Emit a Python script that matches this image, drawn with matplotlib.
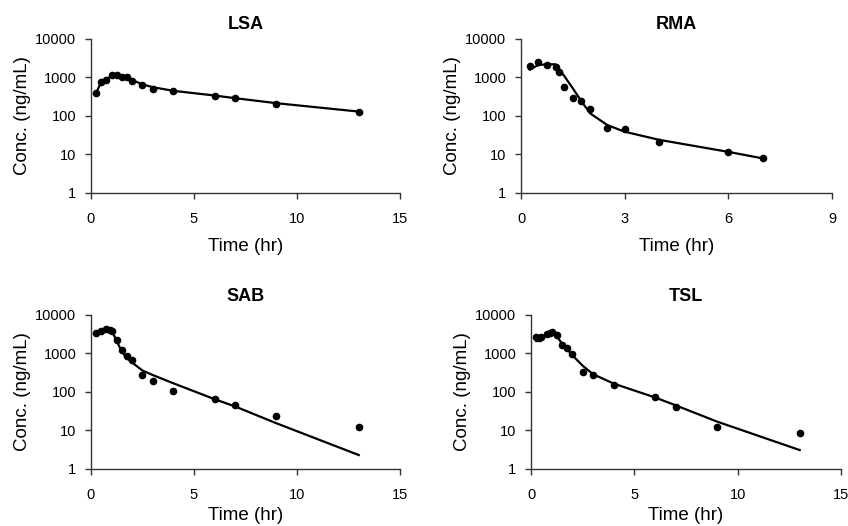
import numpy as np
import matplotlib
matplotlib.use("Agg")
import matplotlib.pyplot as plt
import matplotlib.ticker as mticker

plt.rcParams['font.family'] = ['Liberation Sans', 'DejaVu Sans']

# ---- observed concentrations (ng/mL) and fitted curves ----
lsa_t = [0.25, 0.5, 0.75, 1.0, 1.25, 1.5, 1.75, 2.0, 2.5, 3.0, 4.0, 6.0, 7.0, 9.0, 13.0]
lsa_c = [390, 750, 850, 1190, 1150, 1050, 1000, 800, 620, 510, 440, 330, 290, 200, 130]
lsa_fit_t = [0.25, 0.5, 0.75, 1.0, 1.25, 1.5, 1.75, 2.0, 2.5, 3.0, 4.0, 6.0, 7.0, 9.0, 13.0]
lsa_fit_c = [400, 760, 900, 1100, 1100, 1030, 980, 860, 660, 560, 450, 340, 290, 215, 130]

rma_t = [0.25, 0.5, 0.75, 1.0, 1.1, 1.25, 1.5, 1.75, 2.0, 2.5, 3.0, 4.0, 6.0, 7.0]
rma_c = [1950, 2450, 2150, 1850, 1350, 560, 300, 240, 155, 48, 47, 21, 11.7, 7.9]
rma_fit_t = [0.25, 0.5, 0.75, 1.0, 1.25, 1.5, 1.75, 2.0, 2.5, 3.0, 4.0, 6.0, 7.0]
rma_fit_c = [1600, 2100, 2200, 2200, 1100, 520, 240, 117, 58, 39, 24, 11.7, 7.9]

sab_t = [0.25, 0.5, 0.75, 0.9, 1.0, 1.25, 1.5, 1.75, 2.0, 2.5, 3.0, 4.0, 6.0, 7.0, 9.0, 13.0]
sab_c = [3500, 3800, 4200, 4100, 3900, 2240, 1230, 880, 680, 280, 197, 108, 66, 45, 24, 12]
sab_fit_t = [0.25, 0.5, 0.75, 1.0, 1.25, 1.5, 1.75, 2.0, 2.5, 3.0, 4.0, 6.0, 7.0, 9.0, 13.0]
sab_fit_c = [3100, 3500, 3900, 4000, 2100, 1100, 750, 580, 360, 275, 168, 65, 42, 15.4, 2.3]

tsl_t = [0.25, 0.4, 0.5, 0.75, 0.9, 1.0, 1.25, 1.5, 1.75, 2.0, 2.5, 3.0, 4.0, 6.0, 7.0, 9.0, 13.0]
tsl_c = [2700, 2450, 2600, 3200, 3500, 3700, 3000, 1660, 1360, 970, 325, 270, 152, 76, 40, 12, 8.5]
tsl_fit_t = [0.25, 0.5, 0.75, 1.0, 1.25, 1.5, 1.75, 2.0, 2.5, 3.0, 4.0, 6.0, 7.0, 9.0, 13.0]
tsl_fit_c = [2100, 2600, 3100, 3600, 2800, 1800, 1300, 900, 480, 290, 165, 72, 45, 17, 3.1]

titles = ['LSA', 'RMA', 'SAB', 'TSL']
xmax = [15, 9, 15, 15]
xstep = [5, 3, 5, 5]
obs = [(lsa_t, lsa_c), (rma_t, rma_c), (sab_t, sab_c), (tsl_t, tsl_c)]
fits = [(lsa_fit_t, lsa_fit_c), (rma_fit_t, rma_fit_c), (sab_fit_t, sab_fit_c), (tsl_fit_t, tsl_fit_c)]

# axes boxes in figure fractions
boxes = [[0.1073, 0.6331, 0.3644, 0.2928],
         [0.6144, 0.6331, 0.3667, 0.2928],
         [0.1073, 0.1084, 0.3644, 0.2928],
         [0.6262, 0.1084, 0.3656, 0.2928]]
title_pad = [7, 7, 10, 10]
xlab_pad = [9, 9, 4, 4]

fig = plt.figure(figsize=(8.48, 5.26), dpi=100)

for i in range(4):
    ax = fig.add_axes(boxes[i])
    ax.plot(fits[i][0], fits[i][1], color='black', lw=1.6, zorder=2)
    ax.plot(obs[i][0], obs[i][1], 'o', color='black', ms=4.5, zorder=3)
    ax.set_yscale('log')
    ax.set_ylim(1, 10000)
    ax.set_xlim(0, xmax[i])
    ax.set_xticks(np.arange(0, xmax[i] + 0.1, xstep[i]))
    ax.set_yticks([1, 10, 100, 1000, 10000])
    ax.yaxis.set_major_formatter(mticker.FuncFormatter(lambda v, p: '%d' % v))
    ax.yaxis.set_minor_locator(mticker.NullLocator())
    ax.spines['top'].set_visible(False)
    ax.spines['right'].set_visible(False)
    for s in ['left', 'bottom']:
        ax.spines[s].set_linewidth(1.0)
        ax.spines[s].set_color('#333333')
    ax.tick_params(direction='out', length=4.5, width=1.0, labelsize=10.5,
                   colors='#333333', labelcolor='black')
    ax.tick_params(axis='x', pad=9)
    ax.tick_params(axis='y', pad=6)
    ax.set_title(titles[i], fontsize=13, fontweight='bold', pad=title_pad[i])
    ax.set_xlabel('Time (hr)', fontsize=13.5, labelpad=xlab_pad[i])
    ax.set_ylabel('Conc. (ng/mL)', fontsize=13.5, labelpad=3)

fig.savefig('out.png', dpi=100)
